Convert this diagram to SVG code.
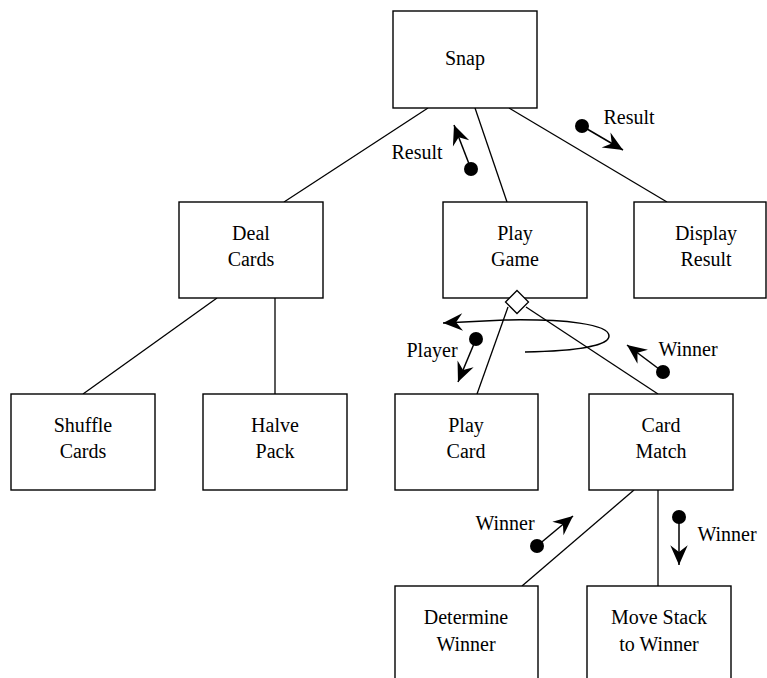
<svg xmlns="http://www.w3.org/2000/svg" width="767" height="678" viewBox="0 0 767 678">
  <style>
    .box { fill: #fff; stroke: #000; stroke-width: 1.4; }
    .lbl { font-family: 'Liberation Serif', 'Times New Roman', 'DejaVu Serif', serif; font-size: 20px; fill: #000; text-anchor: middle; }
    .conn { stroke: #000; stroke-width: 1.3; fill: none; }
    .flow { stroke: #000; stroke-width: 1.5; fill: none; marker-end: url(#head); }
    .ball { fill: #000; }
  </style>
  <defs>
    <marker id="head" markerUnits="userSpaceOnUse" orient="auto" refX="0" refY="0" markerWidth="24" markerHeight="24" viewBox="-20 -10 22 20" overflow="visible">
      <path d="M0,0 L-18,-8 L-12,0 L-18,8 Z" fill="#000"/>
    </marker>
  </defs>

  <rect width="767" height="678" fill="#fff"/>

  <!-- structure-chart links -->
  <g id="connectors">
    <line class="conn" x1="428" y1="108" x2="284" y2="202"/>
    <line class="conn" x1="475" y1="108" x2="507" y2="202"/>
    <line class="conn" x1="509" y1="108" x2="667" y2="202"/>
    <line class="conn" x1="217" y1="298" x2="83" y2="394"/>
    <line class="conn" x1="275" y1="298" x2="275" y2="394"/>
    <line class="conn" x1="508" y1="307" x2="477" y2="394"/>
    <line class="conn" x1="526" y1="307" x2="658" y2="394"/>
    <line class="conn" x1="634" y1="490" x2="522" y2="586"/>
    <line class="conn" x1="658" y1="490" x2="658" y2="586"/>
    <!-- iteration loop -->
    <path class="flow" d="M525,352 C575,351 609,346 609,336 C609,324 565,319 505,320 L443,323"/>
  </g>

  <!-- data couples -->
  <g id="couples">
    <circle class="ball" cx="471" cy="169" r="7"/>
    <line class="flow" x1="471" y1="169" x2="454" y2="125"/>
    <text class="lbl" x="417" y="159" font-family="Liberation Serif">Result</text>

    <circle class="ball" cx="582" cy="126" r="7"/>
    <line class="flow" x1="582" y1="126" x2="623" y2="150"/>
    <text class="lbl" x="629" y="124">Result</text>

    <circle class="ball" cx="476" cy="339" r="7"/>
    <line class="flow" x1="476" y1="339" x2="458" y2="382"/>
    <text class="lbl" x="432" y="357">Player</text>

    <circle class="ball" cx="663" cy="372" r="7"/>
    <line class="flow" x1="663" y1="372" x2="627" y2="345"/>
    <text class="lbl" x="688" y="356">Winner</text>

    <circle class="ball" cx="537" cy="546" r="7"/>
    <line class="flow" x1="537" y1="546" x2="573" y2="516"/>
    <text class="lbl" x="505" y="530">Winner</text>

    <circle class="ball" cx="679" cy="517" r="7"/>
    <line class="flow" x1="679" y1="517" x2="679" y2="565"/>
    <text class="lbl" x="727" y="541">Winner</text>
  </g>

  <g id="snap">
    <rect class="box" x="393" y="11" width="144" height="97"/>
    <text class="lbl" x="465" y="65">Snap</text>
  </g>
  <g id="deal-cards">
    <rect class="box" x="179" y="202" width="144" height="96"/>
    <text class="lbl" x="251" y="240">Deal</text>
    <text class="lbl" x="251" y="266">Cards</text>
  </g>
  <g id="play-game">
    <rect class="box" x="443" y="202" width="144" height="96"/>
    <text class="lbl" x="515" y="240">Play</text>
    <text class="lbl" x="515" y="266">Game</text>
    <!-- selection diamond -->
    <polygon points="517,290.5 528.5,302 517,313.5 505.5,302" fill="#fff" stroke="#000" stroke-width="1.3"/>
  </g>
  <g id="display-result">
    <rect class="box" x="634" y="202" width="132" height="96"/>
    <text class="lbl" x="706" y="240">Display</text>
    <text class="lbl" x="706" y="266">Result</text>
  </g>
  <g id="shuffle-cards">
    <rect class="box" x="11" y="394" width="144" height="96"/>
    <text class="lbl" x="83" y="432">Shuffle</text>
    <text class="lbl" x="83" y="458">Cards</text>
  </g>
  <g id="halve-pack">
    <rect class="box" x="203" y="394" width="144" height="96"/>
    <text class="lbl" x="275" y="432">Halve</text>
    <text class="lbl" x="275" y="458">Pack</text>
  </g>
  <g id="play-card">
    <rect class="box" x="395" y="394" width="143" height="96"/>
    <text class="lbl" x="466" y="432">Play</text>
    <text class="lbl" x="466" y="458">Card</text>
  </g>
  <g id="card-match">
    <rect class="box" x="589" y="394" width="144" height="96"/>
    <text class="lbl" x="661" y="432">Card</text>
    <text class="lbl" x="661" y="458">Match</text>
  </g>
  <g id="determine-winner">
    <rect class="box" x="395" y="586" width="143" height="100"/>
    <text class="lbl" x="466" y="624">Determine</text>
    <text class="lbl" x="466" y="651">Winner</text>
  </g>
  <g id="move-stack">
    <rect class="box" x="587" y="586" width="144" height="100"/>
    <text class="lbl" x="659" y="624">Move Stack</text>
    <text class="lbl" x="659" y="651">to Winner</text>
  </g>
</svg>
